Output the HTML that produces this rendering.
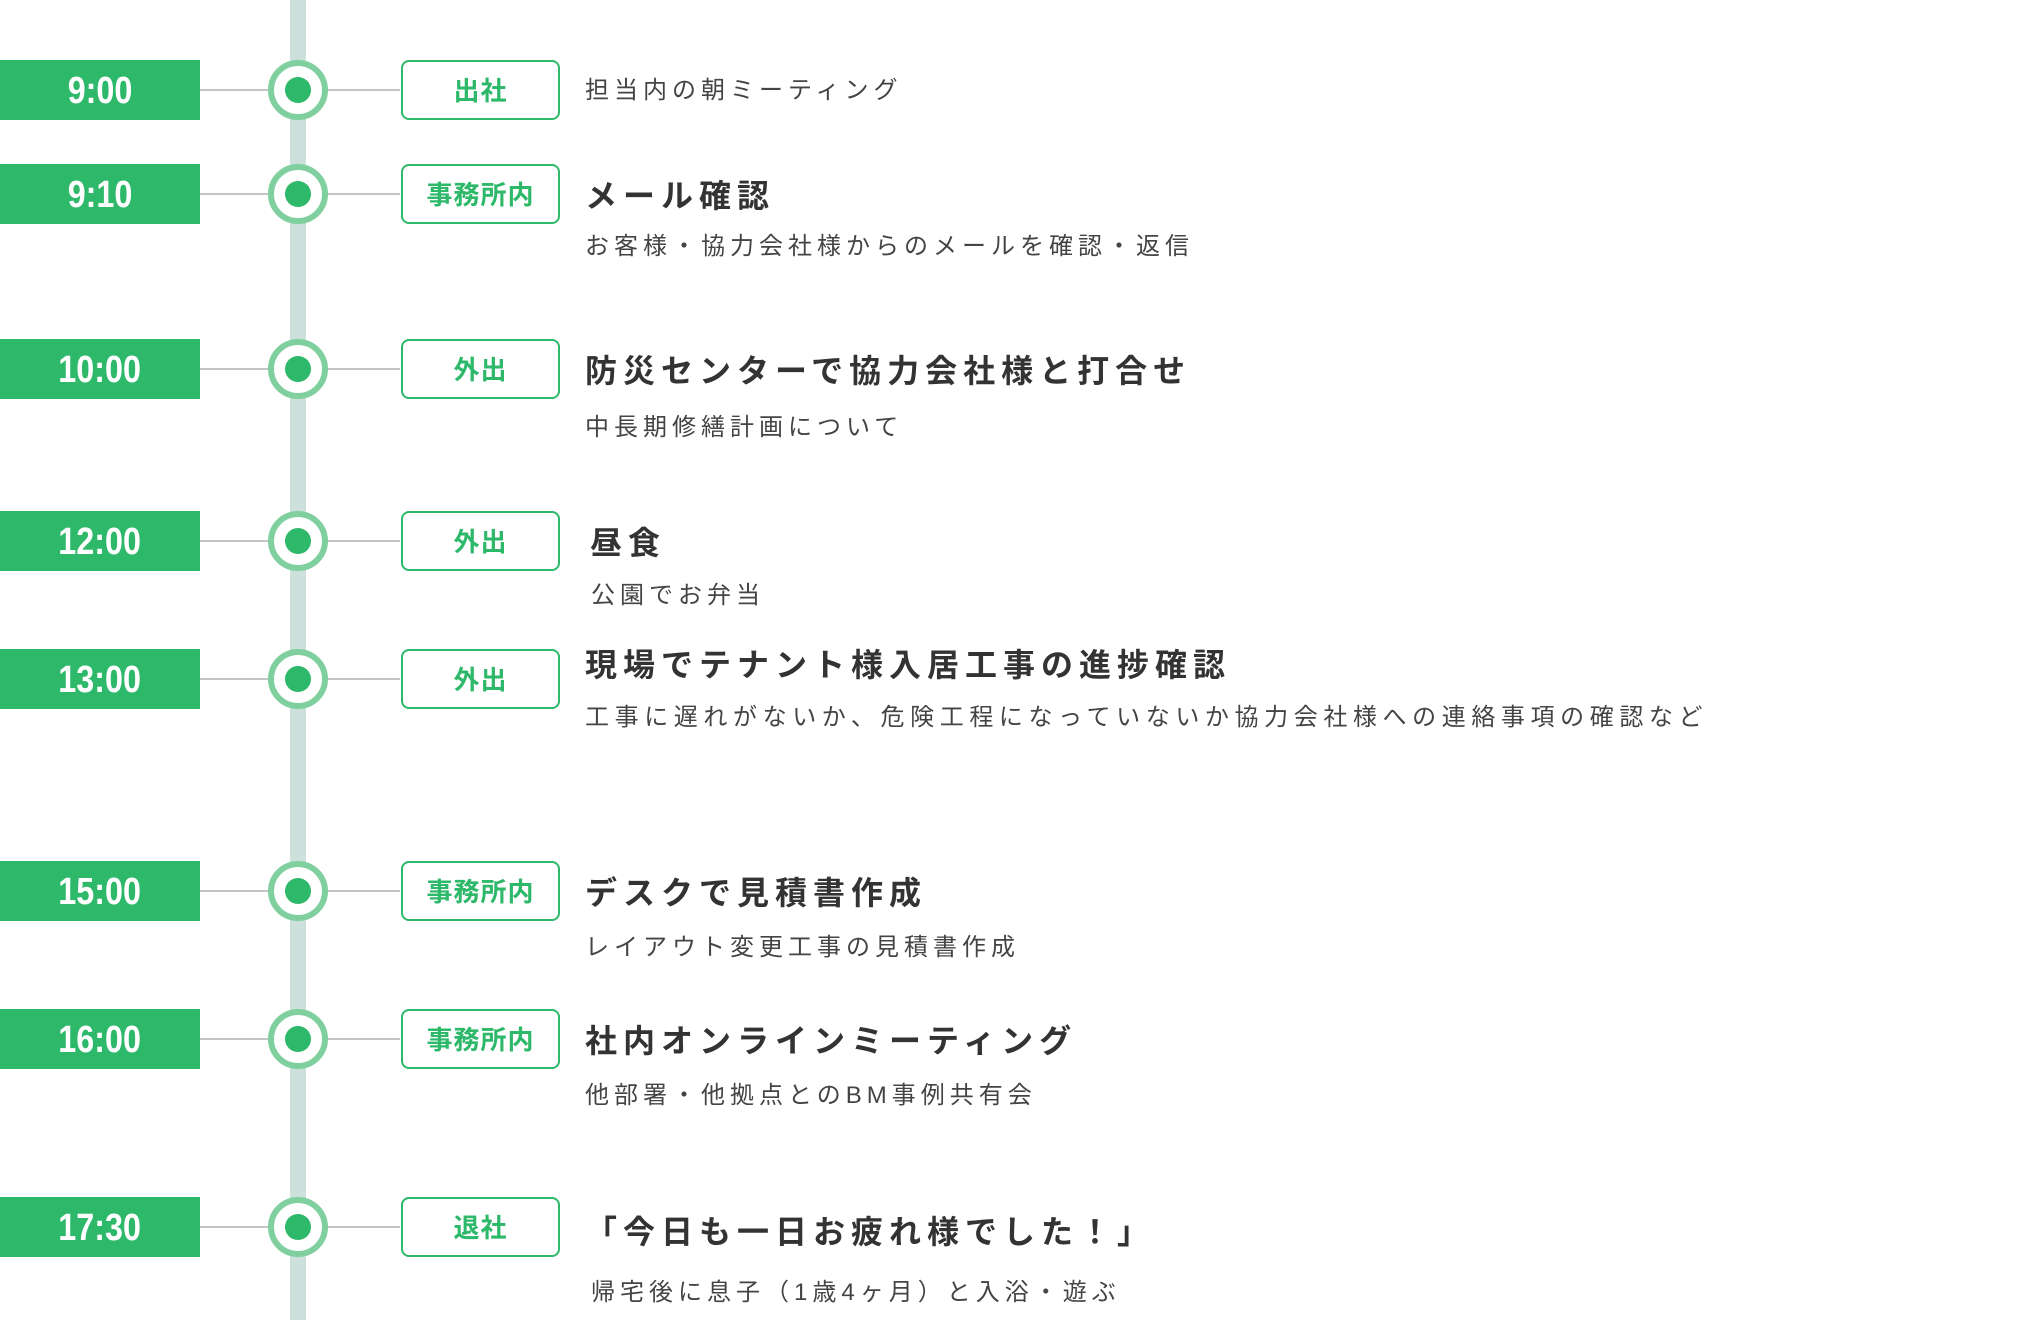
<!DOCTYPE html>
<html><head><meta charset="utf-8"><style>
body{margin:0;width:2040px;height:1320px;background:#fff;position:relative;overflow:hidden;font-family:"Liberation Sans","Noto Sans CJK JP",sans-serif}
.vl{position:absolute;left:290px;top:0;width:16px;height:1320px;background:#cde0dc}
.row{position:absolute;left:0;width:2040px;height:0}
.hl{position:absolute;left:200px;width:200px;top:-1px;height:2px;background:#c4c4c4}
.time{position:absolute;left:0;top:-30px;width:200px;height:60px;background:#2db86a;color:#fff;font-weight:bold;font-size:38px;line-height:62px;text-align:center}
.time span{display:inline-block;transform:scaleX(.85)}
.c{position:absolute;left:268px;top:-30px;width:48px;height:48px;border:6px solid #7fcf9f;border-radius:50%;background:#fff;box-sizing:content-box}
.c::after{content:"";position:absolute;left:11px;top:11px;width:26px;height:26px;border-radius:50%;background:#2db86a}
.tag{position:absolute;left:401px;top:-30px;width:155px;height:56px;border:2px solid #2db86a;border-radius:8px;background:#fff;color:#2db86a;font-weight:bold;font-size:26px;line-height:58px;text-align:center;letter-spacing:1px}
.t{position:absolute;left:585px;font-weight:bold;font-size:32px;color:#333;letter-spacing:6px;white-space:nowrap;line-height:40px}
.s{position:absolute;left:585px;font-size:24px;color:#444;letter-spacing:5px;white-space:nowrap;line-height:32px}
</style></head><body>
<div class="vl"></div>

<div class="row" style="top:90px"><div class="hl"></div><div class="time"><span>9:00</span></div><div class="c"></div><div class="tag">出社</div>
<div class="s" style="top:-15px">担当内の朝ミーティング</div></div>

<div class="row" style="top:194px"><div class="hl"></div><div class="time"><span>9:10</span></div><div class="c"></div><div class="tag">事務所内</div>
<div class="t" style="top:-18px">メール確認</div><div class="s" style="top:37px">お客様・協力会社様からのメールを確認・返信</div></div>

<div class="row" style="top:369px"><div class="hl"></div><div class="time"><span>10:00</span></div><div class="c"></div><div class="tag">外出</div>
<div class="t" style="top:-18px">防災センターで協力会社様と打合せ</div><div class="s" style="top:43px">中長期修繕計画について</div></div>

<div class="row" style="top:541px"><div class="hl"></div><div class="time"><span>12:00</span></div><div class="c"></div><div class="tag">外出</div>
<div class="t" style="top:-18px;left:590px">昼食</div><div class="s" style="top:39px;left:591px">公園でお弁当</div></div>

<div class="row" style="top:679px"><div class="hl"></div><div class="time"><span>13:00</span></div><div class="c"></div><div class="tag">外出</div>
<div class="t" style="top:-34px">現場でテナント様入居工事の進捗確認</div><div class="s" style="top:23px;letter-spacing:5.6px">工事に遅れがないか、危険工程になっていないか協力会社様への連絡事項の確認など</div></div>

<div class="row" style="top:891px"><div class="hl"></div><div class="time"><span>15:00</span></div><div class="c"></div><div class="tag">事務所内</div>
<div class="t" style="top:-18px">デスクで見積書作成</div><div class="s" style="top:41px">レイアウト変更工事の見積書作成</div></div>

<div class="row" style="top:1039px"><div class="hl"></div><div class="time"><span>16:00</span></div><div class="c"></div><div class="tag">事務所内</div>
<div class="t" style="top:-18px">社内オンラインミーティング</div><div class="s" style="top:41px">他部署・他拠点とのBM事例共有会</div></div>

<div class="row" style="top:1227px"><div class="hl"></div><div class="time"><span>17:30</span></div><div class="c"></div><div class="tag">退社</div>
<div class="t" style="top:-15px">「今日も一日お疲れ様でした！」</div><div class="s" style="top:50px;left:591px">帰宅後に息子（1歳4ヶ月）と入浴・遊ぶ</div></div>
</body></html>
